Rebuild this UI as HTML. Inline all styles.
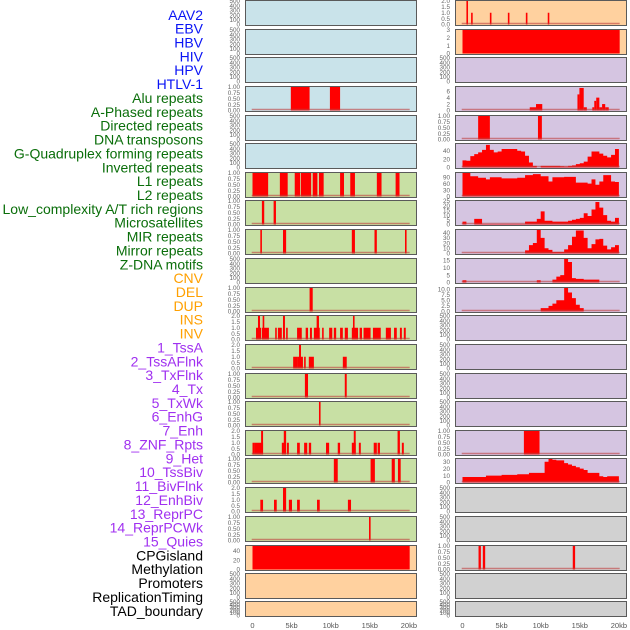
<!DOCTYPE html>
<html><head><meta charset="utf-8"><style>
html,body{margin:0;padding:0;background:#fff;}
svg{display:block;font-family:"Liberation Sans",Arial,sans-serif;}
</style></head><body>
<svg id="chart" width="630" height="630" viewBox="0 0 630 630" xmlns="http://www.w3.org/2000/svg">
<g id="labels"></g>
<g id="panels"></g>
<g id="xaxes"></g>
</svg>
<script>
// ---------- data ----------
const trackNames = ["AAV2","EBV","HBV","HIV","HPV","HTLV-1","Alu repeats","A-Phased repeats","Directed repeats","DNA transposons","G-Quadruplex forming repeats","Inverted repeats","L1 repeats","L2 repeats","Low_complexity A/T rich regions","Microsatellites","MIR repeats","Mirror repeats","Z-DNA motifs","CNV","DEL","DUP","INS","INV","1_TssA","2_TssAFlnk","3_TxFlnk","4_Tx","5_TxWk","6_EnhG","7_Enh","8_ZNF_Rpts","9_Het","10_TssBiv","11_BivFlnk","12_EnhBiv","13_ReprPC","14_ReprPCWk","15_Quies","CPGisland","Methylation","Promoters","ReplicationTiming","TAD_boundary"];
const trackGroups = ["v","v","v","v","v","v","r","r","r","r","r","r","r","r","r","r","r","r","r","c","c","c","c","c","h","h","h","h","h","h","h","h","h","h","h","h","h","h","h","o","o","o","o","o"];
const xTickLabels = ["0","5kb","10kb","15kb","20kb"];
const xTickValues = [0,5,10,15,20];

// bar tracks: [startKb, endKb, value]
const L3_bars = [[4.9,7.3,1],[9.9,11.2,1]];
const L6_bars = [[0,2.0,1],[3.5,4.5,1],[5.4,6.1,1],[6.2,7.5,1],[7.7,8.3,1],[8.5,9.1,1],[11.2,11.7,1],[12.5,13.1,1],[15.9,16.5,1],[18.3,18.8,1]];
const L7_bars = [[1.2,1.5,1],[2.7,3.0,1]];
const L8_bars = [[1.0,1.2,1],[3.9,4.3,1],[12.7,13.1,1],[15.6,15.9,1],[19.5,19.7,1]];
const L10_bars = [[7.3,7.7,1]];
const L11_bars = [[0.45,1.1,1],[0.7,0.96,2],[1.2,2.1,1],[1.3,1.5,2],[2.9,3.1,1],[3.25,3.75,1],[3.9,4.15,2],[4.3,4.5,1],[5.7,6.3,1],[6.8,7.1,1],[7.35,7.6,1],[7.85,8.6,1],[8.2,8.5,2],[8.9,9.1,1],[9.8,10.2,1],[10.4,10.7,1],[11.2,11.55,1],[11.8,12.2,1],[12.7,13.5,1],[12.85,13.0,2],[13.7,14.0,1],[14.2,15.1,1],[15.4,16.4,1],[17.05,17.7,1],[18.1,18.45,1],[18.85,19.1,1],[19.35,19.6,1]];
const L12_bars = [[5.2,5.7,1],[5.7,6.45,1],[5.95,6.2,2],[6.6,6.8,1],[7.2,7.85,1],[11.55,12.05,1]];
const L13_bars = [[6.7,7.1,1],[11.8,12.05,1]];
const L14_bars = [[8.5,8.7,1]];
const L15_bars = [[0,0.2,1],[0.2,1.35,1],[1.1,1.35,2],[3.75,4.15,1],[4.0,4.3,2],[4.4,4.65,1],[5.7,6.05,1],[6.6,7.0,1],[7.2,7.5,1],[9.4,9.8,1],[10.9,11.2,1],[12.7,13.2,1],[12.95,13.2,2],[13.6,13.85,1],[15.5,15.9,1],[16.0,16.3,1],[18.55,18.85,2],[19.1,19.35,1]];
const L16_bars = [[10.4,10.9,1],[15.1,15.65,1],[17.8,18.2,1],[18.6,18.95,1]];
const L17_bars = [[1.0,1.35,1],[2.75,3.1,1],[3.9,4.3,2],[4.65,5.05,1],[5.7,6.05,1],[8.25,8.6,1],[12.2,12.6,1]];
const L18_bars = [[14.9,15.1,1]];
const L19_bars = [[0,20.1,50]];
const R0_bars = [[0.5,0.6,2],[1.1,1.3,1],[3.5,3.65,1],[5.8,5.95,1],[8.1,8.25,1],[10.9,11.1,1]];
const R1_bars = [[0,20.1,3]];
const R3_bars = [[8.6,9.4,1],[9.4,10.2,2],[14.7,14.95,5],[14.95,15.5,7],[15.5,15.9,1],[16.6,16.85,1],[16.85,17.1,3],[17.1,17.5,4],[17.5,17.85,1],[17.85,18.25,2],[18.25,18.7,1]];
const R4_bars = [[2.0,3.5,1],[9.65,10.15,1]];
const R15_bars = [[7.85,9.85,1]];
const R19_bars = [[2.05,2.35,1],[2.6,2.9,1],[14.1,14.4,1]];

// binned area tracks: 40 bins of 0.5kb
const R5_bins = [17,16,27,32,36,42,54,42,36,38,44,44,44,44,40,38,28,12,4,0,4,4,4,4,4,3,2,4,5,8,10,14,26,38,38,33,28,24,30,44];
const R6_bins = [110,110,95,95,88,88,80,90,90,90,85,85,85,85,88,88,100,100,105,105,95,95,70,90,90,90,92,92,92,65,65,65,60,80,55,70,100,100,70,68];
const R7_bins = [3,0,0,6,6,0.5,0.5,0.5,0.5,0.5,0.5,0.5,0.5,0.5,0.5,0.5,3,3,3,6,14,4,4,3,3,3,3,4,5,6,7,12,9,16,24,18,10,4,3,7];
const R8_bins = [0,0,0,0,0,0,0,0,0,0,0,0,0,0,0,0,6,16,20,45,30,10,7,3,3,3,8,16,32,44,44,30,10,18,27,28,15,8,12,16];
const R9_bins = [1.5,0,0,0,0,0,0,0,0,0,0,0,0,0,0,0,0,0,0,1.5,0,0,0,2,4,5,16,14,3,2.5,2.5,2,2,2,2,0,0,0,0,0];
const R10_bins = [0,0,0,0,0,0,0,0,0,0,0,0,0,0,0,0,0,0,0,0,1.5,1.5,2.5,3.5,5,5,10.5,8.5,6,3,1.5,0,0,0,0,0,0,0,0,0];
const R16_bins = [8,8,8,8,8,8,10,10,10,10,11,11,11,11,12,12,12,14,14,14,14,30,34,33,32,32,28,26,24,22,20,18,14,14,14,9,8,9,9,9];

// ---------- layout ----------
const rowTops = [0,29,57,86,115,143,172,200,229,258,287,315,344,373,401,430,458,487,516,545,573,601];
const colors = {blue:"#c9e3ea",green:"#c8e0a4",peach:"#ffd19f",purple:"#d5c5e1",gray:"#d1d1d1"};
const groupColor = {v:"#0a14f5",r:"#0a6e0a",c:"#ffa000",h:"#a030f0",o:"#000"};
const SVGNS="http://www.w3.org/2000/svg";
function mk(tag,attrs,parent){const e=document.createElementNS(SVGNS,tag);for(const k in attrs)e.setAttribute(k,attrs[k]);parent.appendChild(e);return e;}

const emptyT = {ticks:[0,100,200,300,400,500],labels:["0","100","200","300","400","500"],max:500};
const t1 = {ticks:[0,0.25,0.5,0.75,1],labels:["0.00","0.25","0.50","0.75","1.00"],max:1};
const t2 = {ticks:[0,0.5,1,1.5,2],labels:["0.0","0.5","1.0","1.5","2.0"],max:2};
const panels = [
 {c:0,r:0,bg:"blue",t:emptyT},{c:0,r:1,bg:"blue",t:emptyT},{c:0,r:2,bg:"blue",t:emptyT},
 {c:0,r:3,bg:"blue",t:t1,bars:L3_bars},{c:0,r:4,bg:"blue",t:emptyT},{c:0,r:5,bg:"blue",t:emptyT},
 {c:0,r:6,bg:"green",t:t1,bars:L6_bars},{c:0,r:7,bg:"green",t:t1,bars:L7_bars},{c:0,r:8,bg:"green",t:t1,bars:L8_bars},
 {c:0,r:9,bg:"green",t:emptyT},{c:0,r:10,bg:"green",t:t1,bars:L10_bars},{c:0,r:11,bg:"green",t:t2,bars:L11_bars},
 {c:0,r:12,bg:"green",t:t2,bars:L12_bars},{c:0,r:13,bg:"green",t:t1,bars:L13_bars},{c:0,r:14,bg:"green",t:t1,bars:L14_bars},
 {c:0,r:15,bg:"green",t:t2,bars:L15_bars},{c:0,r:16,bg:"green",t:t1,bars:L16_bars},{c:0,r:17,bg:"green",t:t2,bars:L17_bars},
 {c:0,r:18,bg:"green",t:t1,bars:L18_bars},
 {c:0,r:19,bg:"peach",t:{ticks:[0,20,40],labels:["0","20","40"],max:50},bars:L19_bars,nobase:true},
 {c:0,r:20,bg:"peach",t:emptyT},{c:0,r:21,bg:"peach",t:emptyT},
 {c:1,r:0,bg:"peach",t:t2,bars:R0_bars},
 {c:1,r:1,bg:"peach",t:{ticks:[0,1,2,3],labels:["0","1","2","3"],max:3},bars:R1_bars,nobase:true},
 {c:1,r:2,bg:"purple",t:emptyT},
 {c:1,r:3,bg:"purple",t:{ticks:[0,2,4,6],labels:["0","2","4","6"],max:7.3},bars:R3_bars},
 {c:1,r:4,bg:"purple",t:t1,bars:R4_bars},
 {c:1,r:5,bg:"purple",t:{ticks:[0,20,40],labels:["0","20","40"],max:56},bins:R5_bins},
 {c:1,r:6,bg:"purple",t:{ticks:[0,30,60,90],labels:["0","30","60","90"],max:110},bins:R6_bins},
 {c:1,r:7,bg:"purple",t:{ticks:[0,5,10,15,20,25],labels:["0","5","10","15","20","25"],max:25},bins:R7_bins},
 {c:1,r:8,bg:"purple",t:{ticks:[0,10,20,30,40],labels:["0","10","20","30","40"],max:45},bins:R8_bins},
 {c:1,r:9,bg:"purple",t:{ticks:[0,5,10,15],labels:["0","5","10","15"],max:16},bins:R9_bins},
 {c:1,r:10,bg:"purple",t:{ticks:[0,2.5,5,7.5,10],labels:["0.0","2.5","5.0","7.5","10.0"],max:10.5},bins:R10_bins},
 {c:1,r:11,bg:"purple",t:emptyT},{c:1,r:12,bg:"purple",t:emptyT},{c:1,r:13,bg:"purple",t:emptyT},{c:1,r:14,bg:"purple",t:emptyT},
 {c:1,r:15,bg:"purple",t:t1,bars:R15_bars},
 {c:1,r:16,bg:"purple",t:{ticks:[0,10,20,30],labels:["0","10","20","30"],max:34},bins:R16_bins},
 {c:1,r:17,bg:"gray",t:emptyT},{c:1,r:18,bg:"gray",t:emptyT},
 {c:1,r:19,bg:"gray",t:t1,bars:R19_bars},
 {c:1,r:20,bg:"gray",t:emptyT},{c:1,r:21,bg:"gray",t:emptyT}
];

const colX = [245,455];
const colW = 171;
const x0s = [252.5,462.5];
const kbPx = 7.82;
function xScale(c,kb){return x0s[c]+kb*kbPx;}

// labels
const lg=document.getElementById("labels");
trackNames.forEach((n,i)=>{
  const t=mk("text",{x:203,y:19.8+i*13.86,"text-anchor":"end","font-size":"14",fill:groupColor[trackGroups[i]]},lg);
  t.textContent=n;
  
  
});

// panels
const pg=document.getElementById("panels");
panels.forEach(p=>{
  const top=rowTops[p.r]; const h=(p.r===21)?15:25;
  const g=mk("g",{},pg);
  
  
  mk("rect",{x:colX[p.c]+0.5,y:top+0.5,width:colW,height:h,fill:colors[p.bg],stroke:"#5a5a5a","stroke-width":1},g);
  const base=top+h-0.5, yS=v=>base-v/p.t.max*(h-1.5);
  p.t.ticks.forEach((v,k)=>{
    const tt=mk("text",{x:colX[p.c]-5,y:yS(v)+2.2,"text-anchor":"end","font-size":"6.3",fill:"#666"},g);
    tt.textContent=p.t.labels[k];
    
    
  });
  if(p.bars){
    p.bars.forEach(b=>{
      const x1=xScale(p.c,b[0]),x2=xScale(p.c,b[1]);
      const r=mk("rect",{x:x1,y:yS(b[2]),width:Math.max(1.6,x2-x1),height:base-yS(b[2]),fill:"#ff0000"},g);
      
      
    });
  }
  if(p.bins){
    let d="M"+xScale(p.c,0)+","+base;
    p.bins.forEach((v,i)=>{d+=" L"+xScale(p.c,i*0.5)+","+yS(v)+" L"+xScale(p.c,(i+1)*0.5)+","+yS(v);});
    d+=" L"+xScale(p.c,20)+","+base+" Z";
    const a=mk("path",{d:d,fill:"#ff0000"},g);
    
    
  }
  if((p.bars||p.bins)&&!p.nobase){
    mk("line",{x1:xScale(p.c,-0.1),x2:xScale(p.c,20.1),y1:base-1,y2:base-1,stroke:"#c04040","stroke-width":1.5,"stroke-opacity":0.6},g);
  }
});

// x axes
const xg=document.getElementById("xaxes");
[0,1].forEach(c=>{
  xTickValues.forEach((v,k)=>{
    const t=mk("text",{x:xScale(c,v),y:628,"text-anchor":"middle","font-size":"7.5",fill:"#555"},xg);
    t.textContent=xTickLabels[k];
    
    
  });
});
</script>
</body></html>
